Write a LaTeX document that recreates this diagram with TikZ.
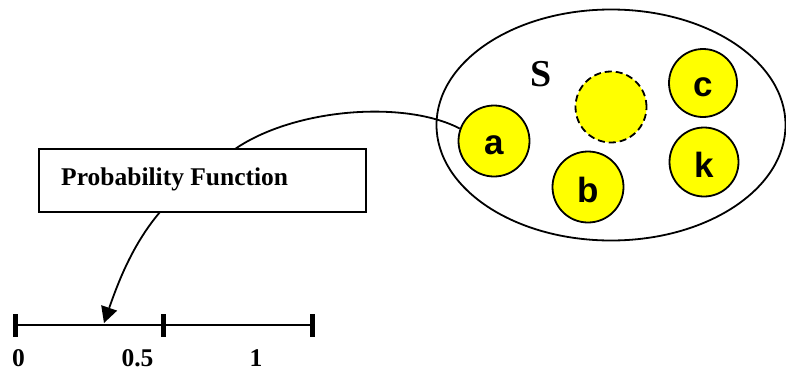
\documentclass[tikz,border=0pt]{standalone}
\usepackage{fontspec}
\setmainfont{Liberation Serif}
\setsansfont{Liberation Sans}
\usetikzlibrary{arrows.meta,shapes.geometric}
\definecolor{elemyellow}{RGB}{255,255,0}
\tikzset{
  elem/.style={circle, draw=black, line width=1.8pt, fill=elemyellow, minimum size=71pt, inner sep=0pt},
  elemlabel/.style={font=\sffamily\bfseries\fontsize{35}{35}\selectfont},
  serifbold/.style={font=\rmfamily\bfseries\fontsize{25.5}{25.5}\selectfont},
  link/.style={line width=1.8pt},
  tickmark/.style={line width=5pt},
}
\begin{document}
\begin{tikzpicture}[x=1pt, y=-1pt]
  \useasboundingbox (0,0) rectangle (786,370);

  % sample space
  \node (S) [draw, ellipse, line width=1.8pt, minimum width=349pt, minimum height=231pt, inner sep=0pt] at (611,125) {};
  \node (Slabel) [font=\rmfamily\bfseries\fontsize{38}{38}\selectfont, inner sep=0pt] at (541,74) {S};

  % outcomes
  \node (a) [elem] at (494,141) {};
  \node [elemlabel, inner sep=0pt] at (494,145) {a};
  \node (b) [elem] at (588,187) {};
  \node [elemlabel, inner sep=0pt] at (588,190) {b};
  \node (e) [elem, dashed, dash pattern=on 7pt off 4pt] at (611,107) {};
  \node (c) [elem, minimum size=68pt] at (703,83) {};
  \node [elemlabel, inner sep=0pt] at (703,87) {c};
  \node (k) [elem, minimum size=69pt] at (704,162) {};
  \node [elemlabel, inner sep=0pt] at (704,165) {k};

  % probability function box
  \node (P) [draw, line width=2.2pt, minimum width=327pt, minimum height=63pt, inner sep=0pt] at (202.5,180.5) {};
  \node [serifbold, anchor=base west, inner sep=0pt] at (61,185) {Probability Function};

  % number line
  \coordinate (n0) at (15.5,325);
  \coordinate (nh) at (163.5,325);
  \coordinate (n1) at (312,325);
  \draw [line width=2.2pt] (n0) -- (n1);
  \foreach \p in {n0,nh,n1} \draw [tickmark] ([yshift=-11.5pt]\p) -- ([yshift=11.5pt]\p);
  \node [serifbold, anchor=base] at (18.5,366) {0};
  \node [serifbold, anchor=base] at (137.5,366) {0.5};
  \node [serifbold, anchor=base] at (256,366) {1};

  % mappings
  \coordinate (Ptop) at (235,149);
  \coordinate (Pbot) at (160,212);
  \coordinate (hit) at (104,323);
  \coordinate (hitbase) at (109.2,307.9);
  \draw [link] (Ptop) .. controls (295,108) and (405,100) .. (a.160);
  \draw [link] (Pbot) .. controls (132,245) and (118,283) .. (hitbase);
  % arrowhead
  \fill (hit) -- (117.2,310.6) -- (101.2,305.2) -- cycle;
\end{tikzpicture}
\end{document}
